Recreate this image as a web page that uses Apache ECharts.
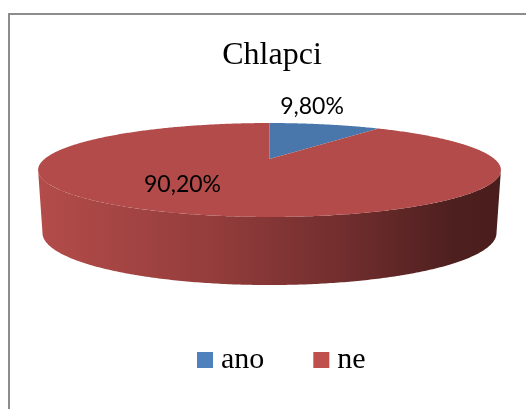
<!DOCTYPE html>
<html>
<head>
<meta charset="utf-8">
<script src="https://cdn.jsdelivr.net/npm/echarts@6/dist/echarts.min.js"></script>
<style>
  html, body { margin: 0; padding: 0; background: #fff; }
  #chart { width: 526px; height: 409px; }
</style>
</head>
<body>
<div id="chart"></div>
<script>
// data
var categories = ['ano', 'ne'];
var values = [9.8, 90.2];
var legendColors = ['#4f81bd', '#c0504d'];
var faceColors = ['#4977ab', '#b24b49'];

// 3D pie look (perspective projection of a flat disc)
var topFace = { cx: 269.5, cy: 159, A: 225, B: 44.4, k: 0.234 };
var bottomFace = { cx: 269.5, cy: 220.8, A: 220.7, B: 49.2, k: 0.234 };

function proj(face, theta, r) {
  var u = r * Math.sin(theta), w = r * Math.cos(theta);
  var d = 1 + face.k * w;
  return [face.cx + face.A * u / d, face.cy - face.B * w / d];
}

function arc(face, a0, a1) {
  var pts = [];
  var n = Math.max(2, Math.ceil((a1 - a0) / 0.01));
  for (var i = 0; i <= n; i++) {
    pts.push(proj(face, a0 + (a1 - a0) * i / n, 1));
  }
  return pts;
}

var total = values.reduce(function (s, v) { return s + v; }, 0);
var startAngles = [];
var acc = 0;
values.forEach(function (v) {
  startAngles.push(acc / total * Math.PI * 2);
  acc += v;
});

// part of the rim that faces the viewer
var sideFrom = Math.acos(-topFace.k);
var sideTo = Math.PI * 2 - sideFrom;

var sideFill = new echarts.graphic.LinearGradient(38, 0, 501, 0, [
  { offset: 0, color: '#b34c4a' },
  { offset: 0.1, color: '#ab4846' },
  { offset: 0.35, color: '#963e3d' },
  { offset: 0.65, color: '#732e2e' },
  { offset: 0.9, color: '#4e1f1f' },
  { offset: 1, color: '#4a1d1d' }
], true);

function makeRender(idx) {
  return function (params, api) {
    var a0 = startAngles[idx];
    var a1 = a0 + values[idx] / total * Math.PI * 2;
    var children = [];
    var s0 = Math.max(a0, sideFrom), s1 = Math.min(a1, sideTo);
    if (s1 > s0) {
      var side = arc(topFace, s0, s1).concat(arc(bottomFace, s0, s1).reverse());
      children.push({
        type: 'polygon',
        shape: { points: side },
        style: { fill: sideFill },
        z2: 1
      });
    }
    var top = [proj(topFace, 0, 0)].concat(arc(topFace, a0, a1));
    children.push({
      type: 'polygon',
      shape: { points: top },
      style: { fill: faceColors[idx] },
      z2: 2
    });
    return { type: 'group', children: children };
  };
}

function pct(v) {
  return (v / total * 100).toFixed(2).replace('.', ',') + '%';
}

var chart = echarts.init(document.getElementById('chart'));
var option = {
  animation: false,
  title: {
    text: 'Chlapci',
    left: 267,
    textAlign: 'center',
    top: 35,
    textStyle: {
      fontFamily: 'Liberation Serif',
      fontSize: 32,
      fontWeight: 'normal',
      color: '#000'
    }
  },
  legend: {
    data: categories,
    left: 192,
    top: 340,
    icon: 'rect',
    itemWidth: 16,
    itemHeight: 16,
    itemGap: 49,
    selectedMode: false,
    textStyle: {
      fontFamily: 'Liberation Serif',
      fontSize: 30,
      lineHeight: 30,
      color: '#000',
      padding: [0, 0, 0, 3]
    }
  },
  graphic: [
    {
      type: 'rect',
      shape: { x: 9, y: 14, width: 600, height: 500 },
      style: { fill: 'none', stroke: '#8c8c8c', lineWidth: 2 },
      silent: true
    },
    {
      type: 'text',
      x: 312, y: 107,
      style: {
        text: pct(values[0]),
        font: '23px Lato',
        fill: '#000',
        align: 'center',
        verticalAlign: 'middle'
      },
      z: 10
    },
    {
      type: 'text',
      x: 182.5, y: 185,
      style: {
        text: pct(values[1]),
        font: '23px Lato',
        fill: '#000',
        align: 'center',
        verticalAlign: 'middle'
      },
      z: 10
    }
  ],
  series: categories.map(function (name, i) {
    return {
      name: name,
      type: 'custom',
      coordinateSystem: 'none',
      itemStyle: { color: legendColors[i] },
      renderItem: makeRender(i),
      data: [[values[i]]]
    };
  })
};
chart.setOption(option);
</script>
</body>
</html>
